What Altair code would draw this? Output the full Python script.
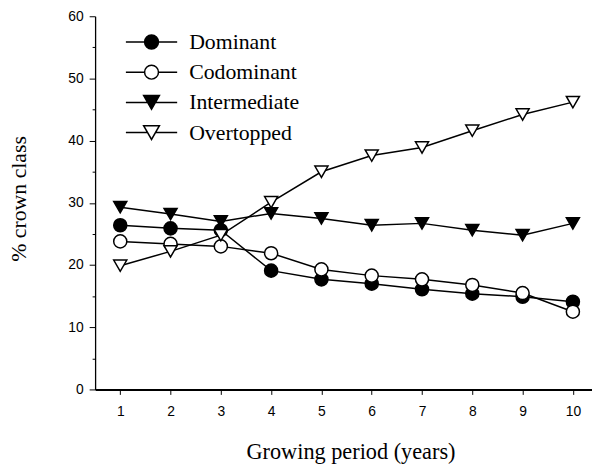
import altair as alt
import pandas as pd

years = [1, 2, 3, 4, 5, 6, 7, 8, 9, 10]
series_names = ["Dominant", "Codominant", "Intermediate", "Overtopped"]
dominant = [26.4, 25.9, 25.6, 19.1, 17.7, 17.0, 16.1, 15.4, 14.9, 14.1]
codominant = [23.8, 23.4, 23.0, 21.9, 19.3, 18.3, 17.7, 16.8, 15.5, 12.5]
intermediate = [29.3, 28.2, 27.0, 28.3, 27.5, 26.4, 26.7, 25.6, 24.8, 26.7]
overtopped = [19.9, 22.2, 24.8, 30.1, 35.0, 37.6, 38.9, 41.6, 44.2, 46.2]
y_ticks = [0, 5, 10, 15, 20, 25, 30, 35, 40, 45, 50, 55, 60]

values = [dominant, codominant, intermediate, overtopped]
rows = []
for name, vals in zip(series_names, values):
    for yr, v in zip(years, vals):
        rows.append({"year": yr, "pct": v, "series": name})
df = pd.DataFrame(rows)

fills = ["black", "white", "black", "white"]
strokes = ["black", "black", "black", "black"]
plot_shapes = ["circle", "circle", "triangle-down", "triangle-down"]
plot_sizes = [175, 175, 250, 250]
circ_leg = "M-3.7,0H-1M1,0H3.7M1,0A1,1,0,1,1,-1,0A1,1,0,1,1,1,0Z"
tri_leg = "M-3.7,0H-0.57M0.57,0H3.7M-1.14,-0.99L1.14,-0.99L0,0.99Z"
legend_shapes = [circ_leg, circ_leg, tri_leg, tri_leg]

x_enc = alt.X(
    "year:Q",
    scale=alt.Scale(domain=[0.5, 10.38], nice=False, zero=False),
    axis=alt.Axis(
        values=years,
        title="Growing period (years)",
        titleFont="Liberation Serif",
        titleFontSize=22.5,
        titleFontWeight="normal",
        titleColor="black",
        titleX=258,
        titleY=70,
        titleAlign="center",
        titleBaseline="alphabetic",
        labelFont="Liberation Sans",
        labelFontSize=14,
        labelColor="black",
        labelPadding=10,
        tickSize=5,
        tickColor="black",
        tickWidth=1,
        domainColor="black",
        domainWidth=2,
        grid=False,
    ),
)
y_enc = alt.Y(
    "pct:Q",
    scale=alt.Scale(domain=[0, 60], nice=False),
    axis=alt.Axis(
        values=y_ticks,
        labelExpr="datum.value % 10 === 0 ? datum.label : ''",
        tickSize={"expr": "datum.value % 10 === 0 ? 6 : 3"},
        title="% crown class",
        titleFont="Liberation Serif",
        titleFontSize=22,
        titleFontWeight="normal",
        titleColor="black",
        titleAngle=270,
        titleX=-70,
        titleY=184,
        titleAlign="center",
        titleBaseline="alphabetic",
        labelFont="Liberation Sans",
        labelFontSize=14,
        labelColor="black",
        labelPadding=6,
        tickColor="black",
        tickWidth=1,
        domainColor="black",
        domainWidth=1.3,
        grid=False,
    ),
)

base = alt.Chart(df)

lines = base.mark_line(color="black", strokeWidth=1.5).encode(
    x=x_enc, y=y_enc, detail="series:N"
)

points = base.mark_point(filled=True, stroke="black", strokeWidth=1.5, opacity=1).encode(
    x=x_enc,
    y=y_enc,
    shape=alt.Shape("series:N", scale=alt.Scale(domain=series_names, range=plot_shapes), legend=None),
    fill=alt.Fill("series:N", scale=alt.Scale(domain=series_names, range=fills), legend=None),
    size=alt.Size("series:N", scale=alt.Scale(domain=series_names, range=plot_sizes), legend=None),
)


def make_legend():
    return alt.Legend(
        title=None,
        orient="none",
        legendX=46,
        legendY=15,
        padding=0,
        symbolSize=196,
        symbolStrokeColor="black",
        symbolStrokeWidth=1.5,
        symbolOpacity=1,
        labelFont="Liberation Serif",
        labelFontSize=22,
        labelColor="black",
        labelOffset=27,
        rowPadding=8.5,
        labelLimit=300,
    )


legend_layer = base.mark_point(filled=True, opacity=0, strokeWidth=1.5).encode(
    x=x_enc,
    y=y_enc,
    shape=alt.Shape("series:N", scale=alt.Scale(domain=series_names, range=legend_shapes), legend=make_legend()),
    fill=alt.Fill("series:N", scale=alt.Scale(domain=series_names, range=fills), legend=make_legend()),
    stroke=alt.Stroke("series:N", scale=alt.Scale(domain=series_names, range=strokes), legend=make_legend()),
)

chart = (
    alt.layer(lines, points, legend_layer)
    .resolve_scale(shape="independent", fill="independent", size="independent", stroke="independent")
    .properties(
        width=502,
        height=377,
        autosize=alt.AutoSizeParams(type="none"),
        padding={"left": 88, "top": 6, "right": 0, "bottom": 75},
        background="white",
    )
    .configure_view(stroke=None)
)

chart.save("out.html", embed_options={"renderer": "svg", "actions": False})
